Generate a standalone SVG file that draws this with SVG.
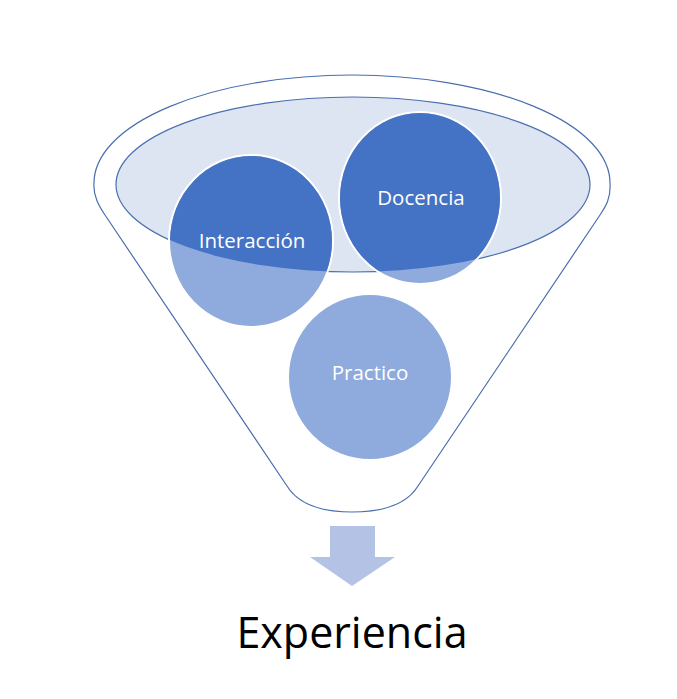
<svg xmlns="http://www.w3.org/2000/svg" width="677" height="699" viewBox="0 0 677 699">
<style>
.edge{fill:none;stroke:#4A6FAE;stroke-width:1.2}
.lbl{font-family:"Open Sans","Noto Sans",sans-serif;fill:#fff;font-size:20.5px;text-anchor:middle}
.light{fill:#8FAADC;stroke:#fff;stroke-width:2}
.dark{fill:#4472C4}
</style>
<defs>
<clipPath id="inner"><ellipse cx="353" cy="184.5" rx="237" ry="87.5"/></clipPath>
</defs>
<rect width="677" height="699" fill="#fff"/>
<g id="funnel">
<path d="M94,183 A258,108 0 0 1 610,183 C611,198 606,206 600,215 L418,486 Q402,512 352,512 Q303,512 287,486 L105,215 C99,206 93,196 94,183 Z" fill="#fff" class="edge"/>
<ellipse cx="353" cy="184.5" rx="237" ry="87.5" fill="#DEE5F2" stroke="#4A6FAE" stroke-width="1.2"/>
</g>
<g id="interaccion">
<ellipse class="light" cx="251" cy="241" rx="82" ry="86"/>
<ellipse class="dark" cx="251" cy="241" rx="81" ry="85" clip-path="url(#inner)"/>
<text class="lbl" x="252" y="248">Interacción</text>
</g>
<g id="docencia">
<ellipse class="light" cx="420" cy="198" rx="81" ry="86"/>
<ellipse class="dark" cx="420" cy="198" rx="80" ry="85" clip-path="url(#inner)"/>
<text class="lbl" x="421" y="205">Docencia</text>
</g>
<g id="practico">
<ellipse class="light" cx="370" cy="377" rx="82" ry="83"/>
<text class="lbl" x="370" y="380">Practico</text>
</g>
<g id="connectors">
<path d="M330,526 H375 V557 H395 L352,586 L310,557 H330 Z" fill="#B4C3E5"/>
</g>
<g id="experiencia">
<text x="352" y="648" font-family="Open Sans, Noto Sans, sans-serif" font-size="43" text-anchor="middle" fill="#000">Experiencia</text>
</g>
</svg>
